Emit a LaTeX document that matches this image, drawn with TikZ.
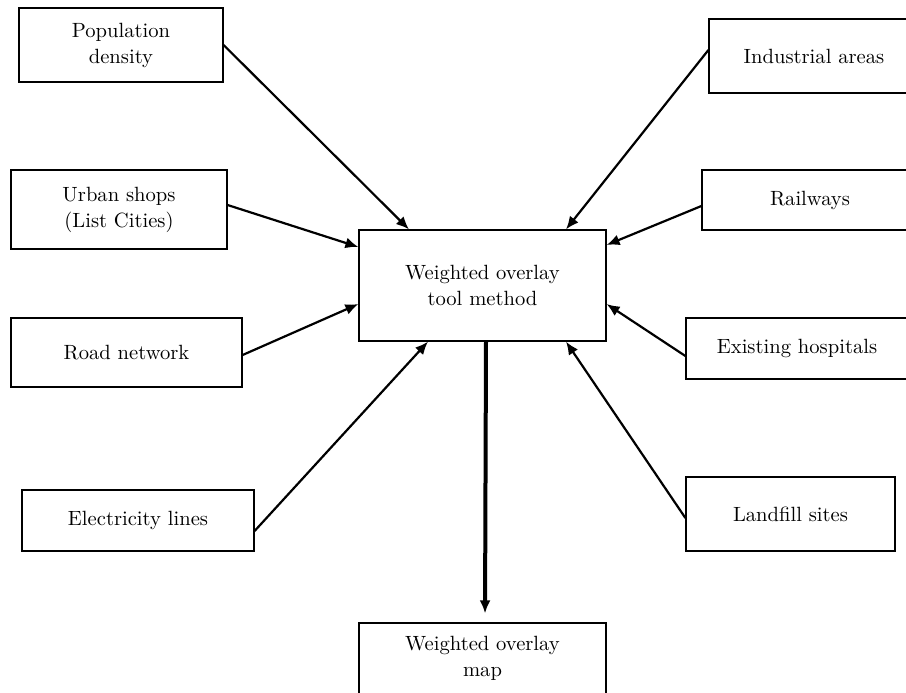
\documentclass[tikz,border=0pt]{standalone}
\usepackage{amsmath, amssymb}
\usetikzlibrary{arrows.meta}

\begin{document}
\begin{tikzpicture}[x=0.5pt, y=-0.5pt,
	box/.style={draw, line width=0.6pt, align=center, inner sep=0pt,
		font=\fontsize{10.3}{13}\selectfont},
	->, >={Latex[length=6.5pt, width=5.5pt]}, line width=1.1pt]
			\useasboundingbox (0,0) rectangle (906,692);
			\clip (0,0) rectangle (906,692);

			\node (tool) [box, minimum width=123.5pt, minimum height=55.5pt] at (482.5,285.5) {Weighted overlay\\tool method};
			\node (pop) [box, minimum width=102pt, minimum height=37pt] at (121,45) {Population\\density};
			\node (shops) [box, minimum width=108pt, minimum height=39.5pt] at (119,209.5) {Urban shops\\(List Cities)};
			\node (road) [box, minimum width=115.5pt, minimum height=34.5pt] at (126.5,352.5) {Road network};
			\node (elec) [box, minimum width=116pt, minimum height=30.5pt] at (138,520.5) {Electricity lines};
			\node (ind) [box, minimum width=105pt, minimum height=37pt] at (814,56) {Industrial areas};
			\node (rail) [box, minimum width=108pt, minimum height=30pt] at (810,200) {Railways};
			\node (hosp) [box, minimum width=111pt, minimum height=30.5pt] at (797,348.5) {Existing hospitals};
			\node (land) [box, minimum width=104.5pt, minimum height=37pt] at (790.5,514) {Landfill sites};
			\node (map) [box, minimum width=123.5pt, minimum height=35.5pt] at (482.5,658.5) {Weighted overlay\\map};

			\path
			  (pop.east) edge ([xshift=-36.75pt]tool.north)
			  ([yshift=2.25pt]shops.east) edge ([yshift=19.25pt]tool.west)
			  ([yshift=-1.25pt]road.east) edge ([yshift=-9.25pt]tool.west)
			  ([yshift=-5.25pt]elec.east) edge ([xshift=-27.25pt]tool.south)
			  ([yshift=3pt]ind.west) edge ([xshift=41.75pt]tool.north)
			  ([yshift=-3pt]rail.west) edge ([yshift=20.25pt]tool.east)
			  ([yshift=-3.75pt]hosp.west) edge ([yshift=-9.25pt]tool.east)
			  ([yshift=-2pt]land.west) edge ([xshift=41.75pt]tool.south)
			  ([xshift=1.75pt]tool.south) edge[line width=2pt, shorten >=4.5pt] ([xshift=1.25pt]map.north);

		  \end{tikzpicture}
\end{document}
